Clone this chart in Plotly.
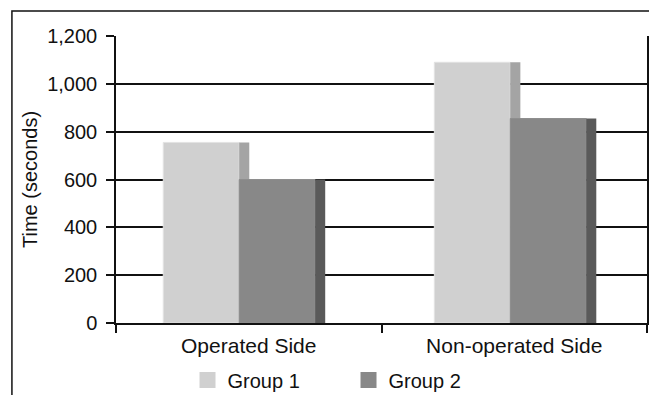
import plotly.graph_objects as go

# Mean time per side, by group
categories = ["Operated Side", "Non-operated Side"]
group1 = [755, 1090]
group2 = [600, 855]
series_names = ["Group 1", "Group 2"]
y_ticks = [0, 200, 400, 600, 800, 1000, 1200]
y_tick_labels = ["0", "200", "400", "600", "800", "1,000", "1,200"]

FONT = "Liberation Sans, Arial, sans-serif"
FRONT = ["#d0d0d0", "#888888"]
SIDE = ["#a4a4a4", "#5a5a5a"]

# Extruded-bar look: a front face followed by a narrow, darker side face.
FRONT_W = 0.286
SIDE_W = 0.038
start = [-0.322, -0.301]  # slight per-category perspective shift

fig = go.Figure()
for i, vals in enumerate([group1, group2]):
    front_off = [s + i * FRONT_W for s in start]
    side_off = [o + FRONT_W for o in front_off]
    fig.add_trace(go.Bar(
        x=categories, y=vals, name=series_names[i],
        offset=front_off, width=FRONT_W,
        marker=dict(color=FRONT[i],
                    line=dict(color="#e2e2e2" if i == 0 else "#8e8e8e", width=1)),
        showlegend=False,
    ))
    fig.add_trace(go.Bar(
        x=categories, y=vals, name=series_names[i],
        offset=side_off, width=SIDE_W,
        marker=dict(color=SIDE[i], line=dict(width=0)),
        showlegend=False,
    ))

# Legend entries with larger square swatches
for i, name in enumerate(series_names):
    fig.add_trace(go.Scatter(
        x=[None], y=[None], mode="markers", name=name,
        marker=dict(symbol="square", size=16, color=FRONT[i]),
    ))

fig.update_layout(
    width=649, height=395,
    margin=dict(l=116, r=2, t=36, b=72),
    paper_bgcolor="white", plot_bgcolor="white",
    barmode="overlay",
    font=dict(family=FONT, size=20, color="#111111"),
    showlegend=True,
    legend=dict(
        orientation="h", xref="container", yref="container",
        x=0.537, xanchor="center", y=0.038, yanchor="middle",
        font=dict(size=20), itemwidth=30, entrywidth=116,
        bgcolor="rgba(0,0,0,0)",
    ),
    shapes=[dict(
        type="rect", xref="paper", yref="paper",
        x0=-0.196, x1=1.3, y0=-0.6, y1=1.087,
        line=dict(color="#111111", width=1.5), layer="below",
    )],
)

fig.update_xaxes(
    type="category", range=[-0.5, 1.5],
    showline=True, linecolor="#111111", linewidth=1.5,
    ticks="outside", ticklen=8, tickcolor="#111111", tickwidth=1.5,
    tickson="boundaries", showgrid=False,
    tickfont=dict(size=21), ticklabelstandoff=3,
)
fig.update_yaxes(
    range=[0, 1200], tickvals=y_ticks, ticktext=y_tick_labels,
    showline=True, linecolor="#111111", linewidth=1.5, mirror=True,
    ticks="outside", ticklen=8, tickcolor="#111111", tickwidth=1.5,
    showgrid=True, gridcolor="#111111", gridwidth=1.5, zeroline=False,
    ticklabelstandoff=5,
    title=dict(text="Time (seconds)", font=dict(size=20), standoff=4),
    automargin=False,
)

fig.write_html("out.html")
